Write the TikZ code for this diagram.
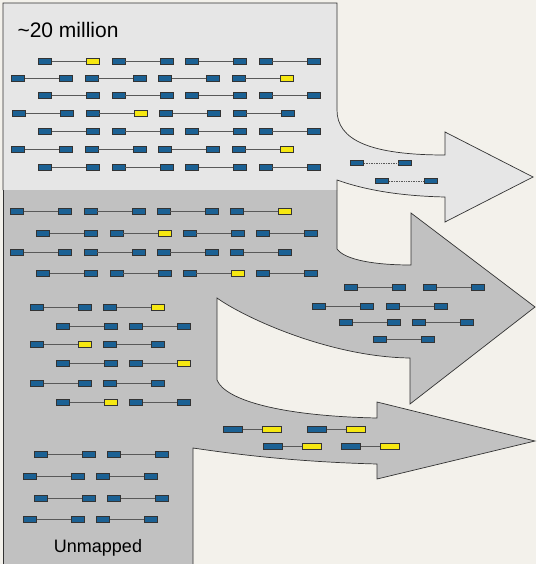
\documentclass[tikz,border=0pt]{standalone}
\usepackage{fontspec}
\setmainfont{Liberation Sans}
\usetikzlibrary{positioning}
\definecolor{paper}{RGB}{243,241,235}
\definecolor{lightreg}{RGB}{230,230,230}
\definecolor{midreg}{RGB}{193,193,193}
\definecolor{readblue}{RGB}{27,97,148}
\definecolor{readyellow}{RGB}{246,232,18}

\begin{document}
\begin{tikzpicture}[x=1pt,y=-1pt,{bl/.style={rectangle,draw=black!80,fill=readblue,line width=0.6pt,inner sep=0pt,minimum width=13pt,minimum height=6pt}},{ye/.style={bl,fill=readyellow}},{link/.style={color=black!65,line width=0.7pt}},{rim/.style={draw=black!80,line width=0.7pt}}]
		%background
		\fill[paper] (0,0) rectangle (536,564);
		\useasboundingbox (0,0) rectangle (536,564);

		%%top region with first arrow
		\fill[lightreg] (3,3) -- (337,3) -- (337,110) .. controls (337,140) and (370,155) .. (445,155) -- (445,132) -- (533,177) -- (445,222) -- (445,197) .. controls (400,196) and (365,190) .. (337,180) -- (337,190) -- (3,190) -- cycle;
		\draw[rim] (3,190) -- (3,3) -- (337,3) -- (337,110) .. controls (337,140) and (370,155) .. (445,155) -- (445,132) -- (533,177) -- (445,222) -- (445,197) .. controls (400,196) and (365,190) .. (337,180) -- (337,190);

		%%mapped region with two arrows
		\fill[midreg] (3,190) -- (337,190) -- (337,249) .. controls (345,260) and (375,265) .. (411,265) -- (411,213) -- (535,307) -- (410,404) -- (410,358) .. controls (330,357) and (245,318) .. (217,298) -- (217,380) .. controls (225,400) and (280,416) .. (377,418) -- (377,402) -- (535,441) -- (377,479) -- (377,464) .. controls (300,462) and (240,455) .. (193,448) -- (193,564) -- (3,564) -- cycle;
		\draw[rim] (337,190) -- (337,249) .. controls (345,260) and (375,265) .. (411,265) -- (411,213) -- (535,307) -- (410,404) -- (410,358) .. controls (330,357) and (245,318) .. (217,298) -- (217,380) .. controls (225,400) and (280,416) .. (377,418) -- (377,402) -- (535,441) -- (377,479) -- (377,464) .. controls (300,462) and (240,455) .. (193,448) -- (193,564);
		\draw[rim] (3,190) -- (3,564);

		%%labels
		\node[anchor=base west,font=\fontsize{21}{24}\selectfont] (total) at (14,38) {\textasciitilde 20 million};
		\node[anchor=base,font=\fontsize{18}{20}\selectfont] (unmapped) at (98,552) {Unmapped};

		%%reads, top region
		\foreach \y/\xo/\cols [count=\r] in {61/45/{ye,bl,bl,bl},78/18/{bl,bl,bl,ye},95/45/{bl,bl,bl,bl},113/19/{bl,ye,bl,bl},131/45/{bl,bl,bl,bl},149/18/{bl,bl,bl,ye},167/45/{bl,bl,bl,bl}}
		\foreach \c [count=\k] in \cols {
			\node at ({\xo+(\k-1)*73.5},\y) [bl] (top-\r-\k-a) {};
			\node at ({\xo+(\k-1)*73.5+48},\y) [\c] (top-\r-\k-b) {};
			\draw[link] (top-\r-\k-a) -- (top-\r-\k-b);
		}

		%%reads, mapped region
		\foreach \y/\xo/\cols [count=\r] in {211/17/{bl,bl,bl,ye},233/43/{bl,ye,bl,bl},252/17/{bl,bl,bl,bl},273/43/{bl,bl,ye,bl}}
		\foreach \c [count=\k] in \cols {
			\node at ({\xo+(\k-1)*73.3},\y) [bl] (map-\r-\k-a) {};
			\node at ({\xo+(\k-1)*73.3+48},\y) [\c] (map-\r-\k-b) {};
			\draw[link] (map-\r-\k-a) -- (map-\r-\k-b);
		}
		\foreach \y/\xo/\cols [count=\r] in {307/37/{bl,ye},326/63/{bl,bl},344/37/{ye,bl},363/63/{bl,ye},383/37/{bl,bl},402/63/{ye,bl}}
		\foreach \c [count=\k] in \cols {
			\node at ({\xo+(\k-1)*73},\y) [bl] (low-\r-\k-a) {};
			\node at ({\xo+(\k-1)*73+48},\y) [\c] (low-\r-\k-b) {};
			\draw[link] (low-\r-\k-a) -- (low-\r-\k-b);
		}

		%%reads, unmapped
		\foreach \y/\xo [count=\r] in {454/41,476/30,498/41,519/30}
		\foreach \k in {1,2} {
			\node at ({\xo+(\k-1)*73},\y) [bl] (unm-\r-\k-a) {};
			\node at ({\xo+(\k-1)*73+48},\y) [bl] (unm-\r-\k-b) {};
			\draw[link] (unm-\r-\k-a) -- (unm-\r-\k-b);
		}

		%%reads in the arrows
		\node at (357,163) [bl,minimum height=5pt] (one-1-a) {};
		\node at (405,163) [bl,minimum height=5pt] (one-1-b) {};
		\node at (382,181) [bl,minimum height=5pt] (one-2-a) {};
		\node at (431,181) [bl,minimum height=5pt] (one-2-b) {};
		\draw[link,densely dotted] (one-1-a) -- (one-1-b);
		\draw[link,densely dotted] (one-2-a) -- (one-2-b);

		\foreach \y/\xo/\p/\cols [count=\r] in {287/351/79/{bl,bl},306/319/74/{bl,bl},322/346/73/{bl,bl},339/380/0/{bl}}
		\foreach \c [count=\k] in \cols {
			\node at ({\xo+(\k-1)*\p},\y) [bl] (two-\r-\k-a) {};
			\node at ({\xo+(\k-1)*\p+48},\y) [\c] (two-\r-\k-b) {};
			\draw[link] (two-\r-\k-a) -- (two-\r-\k-b);
		}
		\foreach \y/\xo/\p [count=\r] in {429/233/84,446/273/78}
		\foreach \k in {1,2} {
			\node at ({\xo+(\k-1)*\p},\y) [bl,minimum width=19pt] (three-\r-\k-a) {};
			\node at ({\xo+(\k-1)*\p+39},\y) [ye,minimum width=19pt] (three-\r-\k-b) {};
			\draw[link] (three-\r-\k-a) -- (three-\r-\k-b);
		}
	\end{tikzpicture}
\end{document}
